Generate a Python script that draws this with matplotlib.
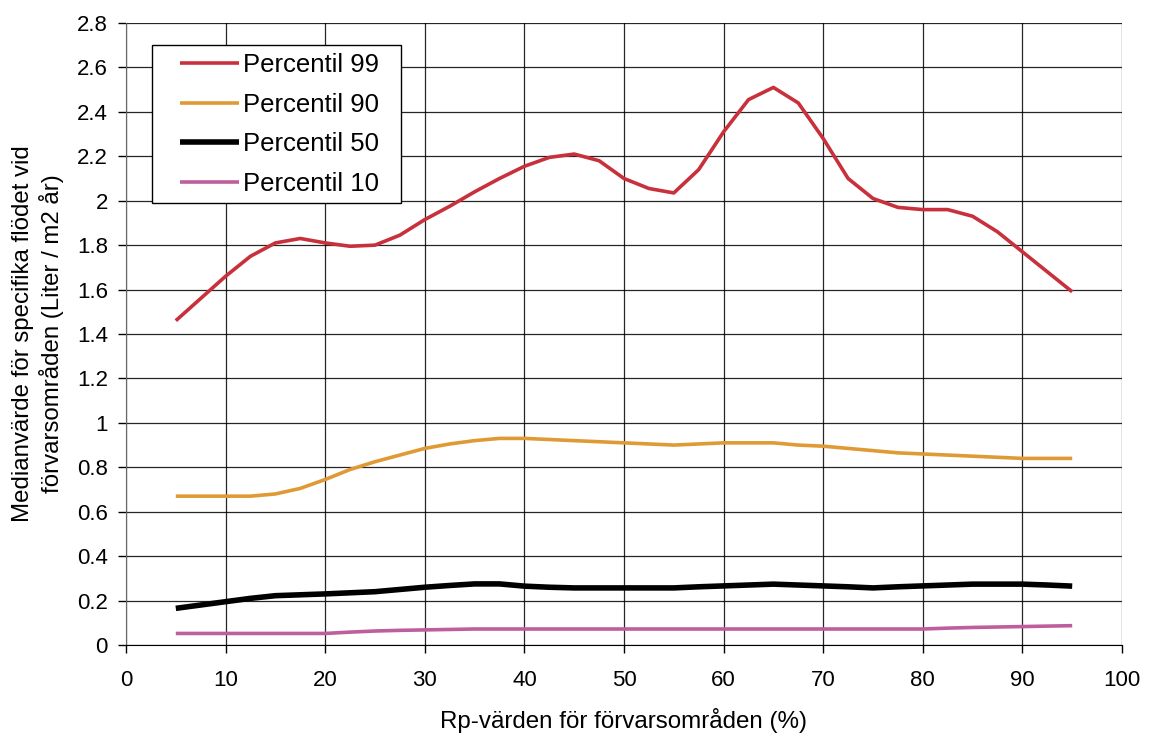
import matplotlib
matplotlib.use("Agg")
import matplotlib.pyplot as plt
from matplotlib.patches import Rectangle

plt.rcParams['font.family'] = ['Liberation Sans', 'DejaVu Sans']

x = [5, 7.5, 10, 12.5, 15, 17.5, 20, 22.5, 25, 27.5, 30, 32.5, 35, 37.5, 40, 42.5,
     45, 47.5, 50, 52.5, 55, 57.5, 60, 62.5, 65, 67.5, 70, 72.5, 75, 77.5, 80, 82.5,
     85, 87.5, 90, 92.5, 95]

p99 = [1.46, 1.56, 1.66, 1.75, 1.81, 1.83, 1.81, 1.795, 1.80, 1.845, 1.915, 1.975,
       2.04, 2.10, 2.155, 2.195, 2.21, 2.18, 2.10, 2.055, 2.035, 2.14, 2.31, 2.455,
       2.51, 2.44, 2.28, 2.10, 2.01, 1.97, 1.96, 1.96, 1.93, 1.86, 1.77, 1.68, 1.59]

p90 = [0.67, 0.67, 0.67, 0.67, 0.68, 0.705, 0.745, 0.79, 0.825, 0.855, 0.885, 0.905,
       0.92, 0.93, 0.93, 0.925, 0.92, 0.915, 0.91, 0.905, 0.90, 0.905, 0.91, 0.91,
       0.91, 0.90, 0.895, 0.885, 0.875, 0.865, 0.86, 0.855, 0.85, 0.845, 0.84, 0.84, 0.84]

p50 = [0.165, 0.18, 0.195, 0.21, 0.222, 0.226, 0.23, 0.235, 0.24, 0.25, 0.26, 0.268,
       0.275, 0.275, 0.265, 0.26, 0.257, 0.257, 0.257, 0.257, 0.257, 0.262, 0.266, 0.27,
       0.274, 0.27, 0.266, 0.262, 0.257, 0.262, 0.266, 0.27, 0.274, 0.274, 0.274, 0.27, 0.265]

p10 = [0.052, 0.052, 0.052, 0.052, 0.052, 0.052, 0.052, 0.058, 0.063, 0.066, 0.068, 0.07,
       0.072, 0.072, 0.072, 0.072, 0.072, 0.072, 0.072, 0.072, 0.072, 0.072, 0.072, 0.072,
       0.072, 0.072, 0.072, 0.072, 0.072, 0.072, 0.072, 0.076, 0.079, 0.081, 0.083, 0.085, 0.087]

labels = ['Percentil 99', 'Percentil 90', 'Percentil 50', 'Percentil 10']
xticks = list(range(0, 101, 10))
yticks = [0, 0.2, 0.4, 0.6, 0.8, 1, 1.2, 1.4, 1.6, 1.8, 2, 2.2, 2.4, 2.6, 2.8]
ytick_labels = ['0', '0.2', '0.4', '0.6', '0.8', '1', '1.2', '1.4', '1.6', '1.8',
                '2', '2.2', '2.4', '2.6', '2.8']

W, H = 1151, 738
fig = plt.figure(figsize=(W / 100, H / 100), dpi=100)
ax = fig.add_axes([126 / W, 93 / H, (1122 - 126) / W, (645 - 23) / H])

ax.plot(x, p99, color='#C8303C', lw=2.6, label=labels[0], solid_capstyle='butt',
        solid_joinstyle='round', zorder=2)
ax.plot(x, p90, color='#E09A35', lw=2.6, label=labels[1], solid_capstyle='butt',
        solid_joinstyle='round', zorder=2)
ax.plot(x, p50, color='#000000', lw=4.0, label=labels[2], solid_capstyle='butt',
        solid_joinstyle='round', zorder=2)
ax.plot(x, p10, color='#BF5E9C', lw=2.6, label=labels[3], solid_capstyle='butt',
        solid_joinstyle='round', zorder=2)

ax.set_xlim(0, 100)
ax.set_ylim(0, 2.8)
ax.set_xticks(xticks)
ax.set_yticks(yticks)
ax.set_yticklabels(ytick_labels)
ax.tick_params(axis='both', direction='out', length=6, width=1, labelsize=16,
               color='#000000')
ax.tick_params(axis='x', pad=12)
ax.tick_params(axis='y', pad=7)
ax.grid(True, color='#000000', lw=0.9, alpha=0.85)
ax.set_axisbelow(True)
for s in ['top', 'right']:
    ax.spines[s].set_visible(False)
ax.spines['left'].set_color('#666666')
ax.spines['bottom'].set_color('#000000')

ax.set_xlabel('Rp-värden för förvarsområden (%)', fontsize=17.4, labelpad=12)
ax.set_ylabel('Medianvärde för specifika flödet vid\nförvarsområden (Liter / m2 år)',
              fontsize=17.3, labelpad=9, linespacing=1.25)

# legend box
ax.add_patch(Rectangle((152 / W, 1 - 203 / H), 249 / W, 158 / H, transform=fig.transFigure,
                       facecolor='white', edgecolor='black', lw=1.0, zorder=3, clip_on=False))
fs = 18.5
fs_px = fs * 100 / 72
leg = ax.legend(loc='upper left', bbox_to_anchor=(180 / W, 1 - 53 / H),
                bbox_transform=fig.transFigure, borderaxespad=0, borderpad=0, fontsize=fs,
                frameon=False, handlelength=59 / fs_px, handletextpad=4 / fs_px,
                labelspacing=0.61)
leg.set_zorder(5)

fig.savefig('out.png', dpi=100)
